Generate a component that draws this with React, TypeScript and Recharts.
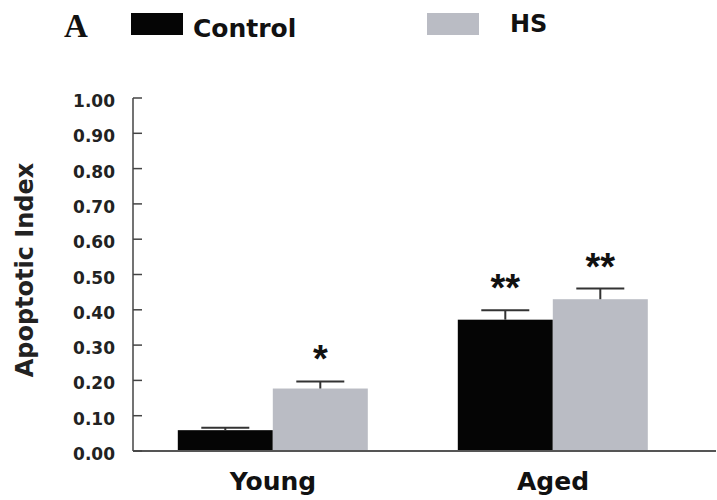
import { BarChart, Bar, XAxis, YAxis, Label } from 'recharts';

const groups = ['Young', 'Aged'];
const controlValues = [0.059, 0.372];
const controlErrors = [0.007, 0.027];
const hsValues = [0.177, 0.43];
const hsErrors = [0.02, 0.03];
const controlStars = ['', '**'];
const hsStars = ['*', '**'];
const yTicks = [0, 0.1, 0.2, 0.3, 0.4, 0.5, 0.6, 0.7, 0.8, 0.9, 1.0];

const series = [
  { key: 'control', name: 'Control', color: '#050505' },
  { key: 'hs', name: 'HS', color: '#babcc4' },
];

const data = groups.map((g, i) => ({
  group: g,
  control: controlValues[i],
  controlErr: controlErrors[i],
  controlStar: controlStars[i],
  hs: hsValues[i],
  hsErr: hsErrors[i],
  hsStar: hsStars[i],
}));

const FONT = '"DejaVu Sans", sans-serif';

// bar + upward whisker + significance stars, scaled from the bar's own pixel height
const makeShape = (valKey: string, errKey: string, starKey: string) => (props: any) => {
  const { x, y, width, height, fill, payload } = props;
  const value = payload[valKey];
  const pxPerUnit = value ? height / value : 0;
  const capY = y - payload[errKey] * pxPerUnit;
  const cx = x + width / 2;
  const capHalf = 24;
  return (
    <g>
      <rect x={x} y={y} width={width} height={height} fill={fill} />
      <line x1={cx} y1={y} x2={cx} y2={capY} stroke="#333" strokeWidth={2} />
      <line x1={cx - capHalf} y1={capY} x2={cx + capHalf} y2={capY} stroke="#333" strokeWidth={2} />
      {payload[starKey] && (
        <text x={cx} y={capY - 9} textAnchor="middle" fontFamily='"Liberation Sans", Arial, sans-serif'
          fontWeight="bold" fontSize={38} fill="#111">
          {payload[starKey]}
        </text>
      )}
    </g>
  );
};

const YTick = (props: any) => {
  const { x, y, payload } = props;
  return (
    <g>
      <line x1={x + 18} y1={y} x2={x + 27} y2={y} stroke="#444" strokeWidth={1.5} />
      <text x={x} y={y} dy={9} textAnchor="end" fontFamily={FONT} fontWeight="bold" fontSize={17} fill="#222">
        {payload.value.toFixed(2)}
      </text>
    </g>
  );
};

const XTick = (props: any) => {
  const { x, y, payload } = props;
  return (
    <text x={x} y={y} dy={37} textAnchor="middle" fontFamily={FONT} fontWeight="bold" fontSize={25} fill="#111">
      {payload.value}
    </text>
  );
};

const legendPos = [
  { swatchX: 131, textX: 193, textY: 37, size: 25 },
  { swatchX: 427, textX: 510, textY: 32, size: 24 },
];

export default function App() {
  return (
    <div style={{ position: 'absolute', left: 0, top: 0, width: 717, height: 500, background: '#fff' }}>
      <svg width={717} height={60} style={{ position: 'absolute', left: 0, top: 0 }}>
        <text x={64} y={37} fontFamily='"Liberation Serif", serif' fontWeight="bold" fontSize={33} fill="#111">A</text>
        {series.map((s, i) => (
          <g key={s.key}>
            <rect x={legendPos[i].swatchX} y={13} width={52} height={22} fill={s.color} />
            <text x={legendPos[i].textX} y={legendPos[i].textY} fontFamily={FONT} fontWeight="bold"
              fontSize={legendPos[i].size} fill="#111">{s.name}</text>
          </g>
        ))}
      </svg>
      <BarChart
        width={717}
        height={500}
        data={data}
        margin={{ top: 98, right: 1, bottom: 19, left: 38 }}
        barCategoryGap="16%"
        barGap={0}
      >
        <XAxis
          dataKey="group"
          height={30}
          tick={<XTick />}
          tickLine={false}
          tickSize={0}
          axisLine={{ stroke: '#555', strokeWidth: 2 }}
          padding={{ left: 0, right: 23 }}
        />
        <YAxis
          domain={[0, 1]}
          ticks={yTicks}
          interval={0}
          width={95}
          tickSize={18}
          tickMargin={0}
          tickLine={false}
          tick={<YTick />}
          axisLine={{ stroke: '#444', strokeWidth: 1.5 }}
        >
          <Label
            content={() => (
              <text
                x={33}
                y={270}
                transform="rotate(-90 33 270)"
                textAnchor="middle"
                fontFamily={FONT}
                fontWeight="bold"
                fontSize={24}
                fill="#222"
              >
                Apoptotic Index
              </text>
            )}
          />
        </YAxis>
        {series.map((s) => (
          <Bar key={s.key} dataKey={s.key} name={s.name} fill={s.color} isAnimationActive={false}
            shape={makeShape(s.key, s.key + 'Err', s.key + 'Star')} />
        ))}
      </BarChart>
    </div>
  );
}
